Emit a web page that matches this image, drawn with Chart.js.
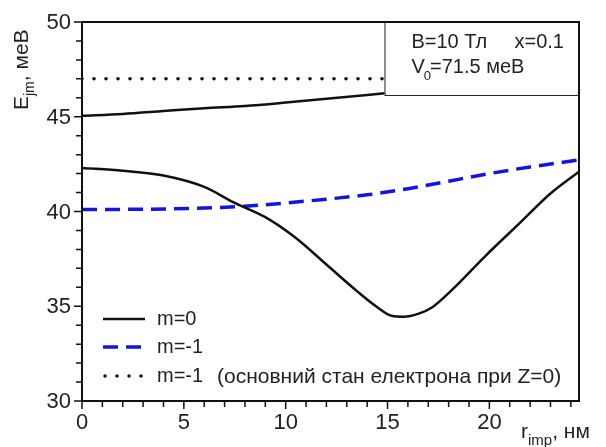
<!DOCTYPE html>
<html>
<head>
<meta charset="utf-8">
<script src="https://cdn.jsdelivr.net/npm/chart.js@4.4.1/dist/chart.umd.min.js"></script>
<style>
html,body{margin:0;padding:0;background:#fff;}
#wrap{width:606px;height:447px;position:relative;}
</style>
</head>
<body>
<div id="wrap"><canvas id="c" width="606" height="447"></canvas></div>
<script>
// ---- data ----
const rLower = [0, 2, 4, 6, 7.5, 9, 10.5, 12, 13.5, 14.5, 15.2, 15.8, 16.5, 17.2, 18.2, 19.8, 21.5, 23, 24.4];
const eLower = [42.3, 42.15, 41.9, 41.3, 40.45, 39.7, 38.6, 37.2, 35.8, 34.95, 34.5, 34.45, 34.6, 34.95, 35.9, 37.65, 39.4, 40.95, 42.1];

const rUpper = [0, 2, 4, 6, 8, 10, 12, 14, 16, 18, 20, 22, 24.4];
const eUpper = [45.05, 45.15, 45.3, 45.45, 45.57, 45.75, 45.95, 46.15, 46.35, 46.55, 46.75, 46.95, 47.2];

const rBlue = [0, 3, 6, 8, 10, 12, 14, 16, 18, 20, 22, 24.4];
const eBlue = [40.1, 40.12, 40.18, 40.28, 40.45, 40.65, 40.88, 41.2, 41.6, 42.0, 42.35, 42.72];

const rDot = [0, 24.4];
const eDot = [47, 47];

const xMajorTicks = [0, 5, 10, 15, 20];
const yMajorTicks = [30, 35, 40, 45, 50];

const legendLabels = ['m=0', 'm=-1', 'm=-1'];
const legendNote = '(основний стан електрона при Z=0)';
const infoLine1 = ['B=10 Тл', 'x=0.1'];
const infoLine2 = ['V', '0', '=71.5 меВ'];

const pts = (xs, ys) => xs.map((x, i) => ({x, y: ys[i]}));

const FONT = '"Liberation Sans", Arial, sans-serif';
const TXT = '#222';

const framePlugin = {
  id: 'frame',
  afterDatasetsDraw(chart) {
    const {ctx, chartArea: a, scales: {x, y}} = chart;
    ctx.save();
    // info box (covers curves)
    const bx = x.getPixelForValue(14.85), by = y.getPixelForValue(46.15);
    ctx.fillStyle = '#fff';
    ctx.fillRect(bx, a.top, a.right - bx, by - a.top);
    ctx.strokeStyle = '#222';
    ctx.lineWidth = 1;
    ctx.strokeRect(bx + 0.5, a.top + 0.5, a.right - bx, by - a.top);
    ctx.fillStyle = TXT;
    ctx.font = '20px ' + FONT;
    ctx.textBaseline = 'alphabetic';
    ctx.textAlign = 'left';
    ctx.fillText(infoLine1[0], bx + 27, a.top + 26);
    ctx.fillText(infoLine1[1], bx + 130, a.top + 26);
    ctx.fillText(infoLine2[0], bx + 27, a.top + 51);
    let w = ctx.measureText(infoLine2[0]).width;
    ctx.font = '13px ' + FONT;
    ctx.fillText(infoLine2[1], bx + 27 + w - 1, a.top + 58);
    let w2 = ctx.measureText(infoLine2[1]).width;
    ctx.font = '20px ' + FONT;
    ctx.fillText(infoLine2[2], bx + 27 + w + w2 - 2, a.top + 51);

    // frame
    ctx.strokeStyle = '#111';
    ctx.lineWidth = 2;
    ctx.strokeRect(a.left, a.top, a.right - a.left, a.bottom - a.top);

    // ticks
    ctx.lineWidth = 1.5;
    ctx.beginPath();
    for (let v = 0; v <= 24; v++) {
      const px = x.getPixelForValue(v);
      const len = xMajorTicks.includes(v) ? 8 : 6;
      ctx.moveTo(px, a.bottom); ctx.lineTo(px, a.bottom + len);
    }
    for (let v = 30; v <= 50; v++) {
      const py = y.getPixelForValue(v);
      const len = yMajorTicks.includes(v) ? 8 : 6;
      ctx.moveTo(a.left, py); ctx.lineTo(a.left - len, py);
    }
    ctx.stroke();

    // tick labels
    ctx.fillStyle = TXT;
    ctx.font = '22px ' + FONT;
    ctx.textAlign = 'center';
    ctx.textBaseline = 'top';
    xMajorTicks.forEach(v => ctx.fillText(String(v), x.getPixelForValue(v), a.bottom + 11));
    ctx.textAlign = 'right';
    ctx.textBaseline = 'middle';
    yMajorTicks.forEach(v => ctx.fillText(String(v), a.left - 11, y.getPixelForValue(v) + 1));

    // x axis title
    ctx.textAlign = 'left';
    ctx.textBaseline = 'alphabetic';
    ctx.font = '21px ' + FONT;
    let tx = 521;
    ctx.fillText('r', tx, 438);
    tx += ctx.measureText('r').width;
    ctx.font = '15px ' + FONT;
    ctx.fillText('imp', tx, 445);
    tx += ctx.measureText('imp').width;
    ctx.font = '21px ' + FONT;
    ctx.fillText(', нм', tx, 438);

    // y axis title (rotated)
    ctx.save();
    ctx.translate(28, 110);
    ctx.rotate(-Math.PI / 2);
    ctx.font = '21px ' + FONT;
    let ty = 0;
    ctx.fillText('E', ty, 0);
    ty += ctx.measureText('E').width;
    ctx.font = '14px ' + FONT;
    ctx.fillText('jm', ty, 6);
    ty += ctx.measureText('jm').width;
    ctx.font = '21px ' + FONT;
    ctx.fillText(', меВ', ty, 0);
    ctx.restore();

    // legend
    const ds = chart.data.datasets;
    const items = [0, 2, 3];
    const lx = 103, lys = [319, 347, 376];
    items.forEach((di, k) => {
      const d = ds[di];
      const yy = lys[k];
      ctx.save();
      ctx.strokeStyle = d.borderColor;
      ctx.lineWidth = d.borderWidth;
      ctx.lineCap = d.borderCapStyle || 'butt';
      ctx.setLineDash(d.borderDash || []);
      ctx.beginPath();
      ctx.moveTo(lx + (di === 3 ? 2 : 0), yy);
      ctx.lineTo(lx + 42, yy);
      ctx.stroke();
      ctx.restore();
      ctx.fillStyle = TXT;
      ctx.font = '20px ' + FONT;
      ctx.textAlign = 'left';
      ctx.textBaseline = 'middle';
      ctx.fillText(d.label, lx + 54, yy);
      if (di === 3) {
        ctx.font = '21px ' + FONT;
        ctx.fillText(legendNote, 217, yy + 1);
      }
    });
    ctx.restore();
  }
};

new Chart(document.getElementById('c'), {
  type: 'line',
  data: {
    datasets: [
      {label: legendLabels[0], data: pts(rLower, eLower), borderColor: '#111', borderWidth: 2.5, pointRadius: 0, cubicInterpolationMode: 'monotone', fill: false},
      {label: legendLabels[0], data: pts(rUpper, eUpper), borderColor: '#111', borderWidth: 2.5, pointRadius: 0, cubicInterpolationMode: 'monotone', fill: false},
      {label: legendLabels[1], data: pts(rBlue, eBlue), borderColor: '#1414dc', borderWidth: 3.5, borderDash: [15, 8], pointRadius: 0, cubicInterpolationMode: 'monotone', fill: false},
      {label: legendLabels[2], data: pts(rDot, eDot), borderColor: '#111', borderWidth: 3.5, borderDash: [0, 12], borderCapStyle: 'round', pointRadius: 0, fill: false}
    ]
  },
  options: {
    responsive: false,
    animation: false,
    devicePixelRatio: 1,
    layout: {padding: {top: 22, right: 27, left: 0, bottom: 0}},
    plugins: {legend: {display: false}, tooltip: {enabled: false}},
    scales: {
      x: {
        type: 'linear', min: 0, max: 24.4,
        grid: {display: false, drawTicks: false},
        border: {display: false},
        ticks: {display: false},
        afterFit(s) { s.height = 46; }
      },
      y: {
        type: 'linear', min: 30, max: 50,
        grid: {display: false, drawTicks: false},
        border: {display: false},
        ticks: {display: false},
        afterFit(s) { s.width = 82; }
      }
    }
  },
  plugins: [framePlugin]
});
</script>
</body>
</html>
